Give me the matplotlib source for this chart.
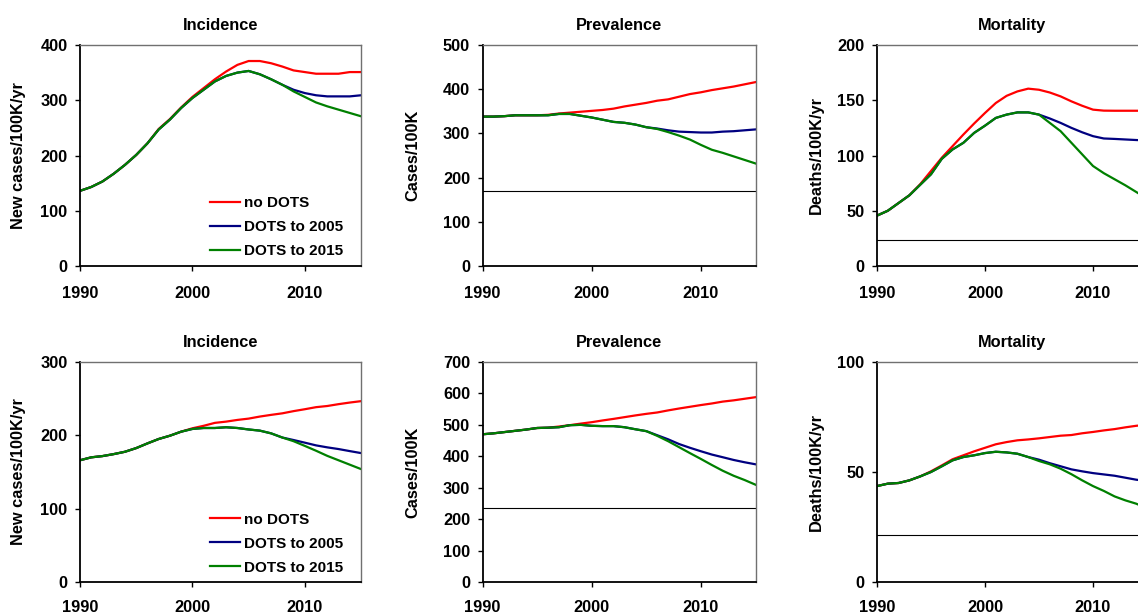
import numpy as np
import matplotlib.pyplot as plt

plt.rcParams['font.family'] = ['Liberation Sans', 'DejaVu Sans']
plt.rcParams['font.weight'] = 'bold'
plt.rcParams['axes.labelweight'] = 'bold'
plt.rcParams['axes.titleweight'] = 'bold'

years = list(range(1990, 2016))
series_names = ['no DOTS', 'DOTS to 2005', 'DOTS to 2015']
colors = ['#ff0000', '#000080', '#008000']

# top row
inc1_none = [136, 143, 153, 167, 183, 201, 222, 248, 266, 287, 306, 322, 338, 352, 364, 371, 371, 367, 361, 354, 351, 348, 348, 348, 351, 351]
inc1_2005 = [136, 143, 153, 167, 183, 201, 222, 247, 265, 286, 304, 319, 334, 344, 350, 353, 347, 338, 328, 319, 313, 309, 307, 307, 307, 309]
inc1_2015 = [136, 143, 153, 167, 183, 201, 222, 247, 265, 286, 304, 319, 334, 344, 350, 353, 347, 338, 328, 316, 306, 296, 289, 283, 277, 271]

prev1_none = [338, 338, 339, 341, 341, 341, 342, 345, 347, 349, 351, 353, 356, 361, 365, 369, 374, 377, 383, 389, 393, 398, 402, 406, 411, 416]
prev1_2005 = [338, 338, 339, 341, 341, 341, 341, 344, 344, 340, 336, 331, 326, 324, 320, 314, 311, 307, 304, 303, 302, 302, 304, 305, 307, 309]
prev1_2015 = [338, 338, 339, 341, 341, 341, 341, 344, 344, 340, 336, 331, 326, 324, 320, 314, 310, 303, 295, 286, 274, 263, 256, 248, 240, 232]

mort1_none = [45.6, 50, 57, 64, 74, 86, 98, 108.5, 119, 129, 138.5, 147.5, 154, 158, 160.5, 159.5, 157, 153.5, 149, 145, 141.5, 140.6, 140.5, 140.5, 140.5, 140.5]
mort1_2005 = [45.6, 50, 57, 64, 73.5, 83, 97, 105.5, 111.5, 120.5, 127, 134, 137, 139, 139, 137, 133.5, 129.5, 125, 121, 117.5, 115.4, 115, 114.5, 114, 113.6]
mort1_2015 = [45.6, 50, 57, 64, 73.5, 83, 97, 105.5, 111.5, 120.5, 127, 134, 137, 139, 139, 137, 129.5, 122, 111.5, 101, 90.5, 84, 78.5, 73, 67, 61]

# bottom row
inc2_none = [166, 170, 171.7, 174.4, 177.6, 182.6, 189, 195, 199.5, 205, 209.6, 213, 217, 218.7, 221, 222.8, 225.6, 227.9, 230, 233, 235.6, 238.4, 240, 242.5, 244.7, 246.6]
inc2_2005 = [166, 170, 171.7, 174.4, 177.6, 182.6, 189, 195, 199.5, 205, 208.7, 210, 210, 211, 210, 208, 206.4, 202.7, 197, 193.6, 190, 186.3, 183.6, 181.3, 178.5, 175.8]
inc2_2015 = [166, 170, 171.7, 174.4, 177.6, 182.6, 189, 195, 199.5, 205, 208.7, 210, 210, 211, 210, 208, 206.4, 202.7, 197, 192, 185.6, 179, 172, 166, 160, 154]

prev2_none = [470, 473, 477, 481, 485, 490, 491, 494.7, 499, 504, 508.5, 514, 519, 524.5, 530, 535, 539.4, 546, 552, 557.5, 563, 568, 574, 578, 583, 588]
prev2_2005 = [470, 473, 477, 481, 485, 490, 491, 492.5, 499, 500, 497, 496, 496, 492.5, 486, 480, 467, 454, 439, 427, 416, 405.5, 397, 388.3, 381, 374.5]
prev2_2015 = [470, 473, 477, 481, 485, 490, 491, 492.5, 499, 500, 497, 496, 496, 492.5, 486, 480, 465, 448, 429, 410, 391.5, 372.3, 354, 338, 324.5, 309.6]

mort2_none = [43.6, 44.7, 45, 46.2, 48, 50.3, 53, 55.8, 57.6, 59.4, 61, 62.6, 63.6, 64.4, 64.8, 65.3, 65.9, 66.5, 66.8, 67.6, 68.2, 68.9, 69.5, 70.3, 71, 71.5]
mort2_2005 = [43.6, 44.7, 45, 46.2, 48, 50, 52.6, 55.3, 56.8, 57.6, 58.6, 59.2, 58.9, 58.3, 56.8, 55.6, 54, 52.6, 51.2, 50.3, 49.5, 48.9, 48.3, 47.4, 46.5, 45.9]
mort2_2015 = [43.6, 44.7, 45, 46.2, 48, 50, 52.6, 55.3, 56.8, 57.6, 58.6, 59.2, 58.9, 58.3, 56.8, 55, 53.5, 51.5, 49, 46.2, 43.6, 41.4, 38.9, 37.1, 35.6, 33.5]

# reference lines (target levels)
prev1_target = 170
mort1_target = 23.5
prev2_target = 234
mort2_target = 21.5

titles = ['Incidence', 'Prevalence', 'Mortality']
ylabels = ['New cases/100K/yr', 'Cases/100K', 'Deaths/100K/yr']

fig = plt.figure(figsize=(11.38, 6.14), dpi=100)

# axes boxes in pixels (left, right) for each column, rows (top, bottom)
# the mortality column runs past the right edge, as in the original
W, H = 1138.0, 614.0
cols = [(80, 361), (482.5, 755.5), (877, 1147)]
rows = [(45, 266), (362, 582)]
label_x = [-0.192, -0.229, -0.196]
xpads = [11, 9.5]

panels = [
    [(inc1_none, inc1_2005, inc1_2015, None, 400, 100),
     (prev1_none, prev1_2005, prev1_2015, prev1_target, 500, 100),
     (mort1_none, mort1_2005, mort1_2015, mort1_target, 200, 50)],
    [(inc2_none, inc2_2005, inc2_2015, None, 300, 100),
     (prev2_none, prev2_2005, prev2_2015, prev2_target, 700, 100),
     (mort2_none, mort2_2005, mort2_2015, mort2_target, 100, 50)],
]

fs = 11.8
for r, (top, bot) in enumerate(rows):
    for c, (left, right) in enumerate(cols):
        ax = fig.add_axes([left / W, 1 - bot / H, (right - left) / W, (bot - top) / H])
        d_none, d_2005, d_2015, target, ymax, ystep = panels[r][c]
        if target is not None:
            ax.axhline(target, color='black', lw=0.8)
        for data, col, name in zip([d_none, d_2005, d_2015], colors, series_names):
            ax.plot(years, data, color=col, lw=1.6, label=name)
        ax.set_xlim(1990, 2015)
        ax.set_ylim(0, ymax)
        ax.set_xticks([1990, 2000, 2010])
        ax.set_yticks(np.arange(0, ymax + 1, ystep))
        ax.tick_params(axis='x', direction='out', length=3.5, width=1, pad=xpads[r], labelsize=fs)
        ax.tick_params(axis='y', direction='out', length=3.5, width=1, pad=5.5, labelsize=fs)
        for s in ['left', 'bottom']:
            ax.spines[s].set_color('black')
            ax.spines[s].set_linewidth(1.3)
        for s in ['top', 'right']:
            ax.spines[s].set_color('#707070')
            ax.spines[s].set_linewidth(1.0)
        ax.set_title(titles[c], fontsize=fs, pad=10.5)
        ax.set_ylabel(ylabels[c], fontsize=fs)
        ax.yaxis.set_label_coords(label_x[c], 0.5)
        if c == 0:
            ax.legend(loc='upper left', bbox_to_anchor=(0.463, 0.315), frameon=False,
                      fontsize=11, handlelength=1.95, handletextpad=0.3,
                      labelspacing=0.65, borderpad=0, borderaxespad=0)

fig.savefig('out.png', dpi=100)
